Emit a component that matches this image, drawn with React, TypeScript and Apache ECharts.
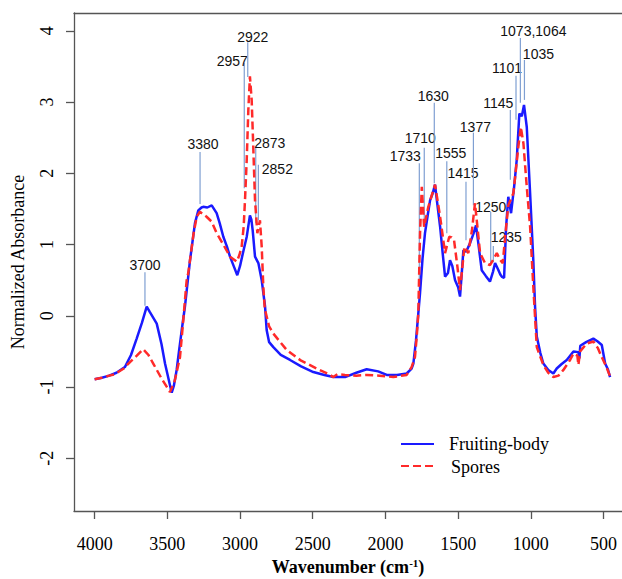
import React, { useEffect, useRef } from "react";
import * as echarts from "echarts";

// ---- Data ----
const fruitingWn = [4000,3950,3900,3850,3792,3750,3711,3675,3642,3620,3573,3540,3516,3470,3455,3436,3420,3401,3379,3344,3310,3287,3265,3253,3225,3195,3161,3140,3115,3090,3069,3040,3019,3000,2978,2954,2940,2932,2922,2913,2897,2874,2851,2828,2817,2800,2771,2720,2656,2580,2496,2420,2358,2278,2200,2129,2050,1991,1920,1854,1820,1808,1790,1774,1762,1745,1728,1710,1693,1675,1659,1645,1624,1605,1590,1570,1556,1540,1521,1500,1487,1475,1464,1445,1418,1395,1377,1360,1338,1310,1281,1260,1246,1225,1210,1200,1184,1170,1155,1136,1115,1097,1079,1062,1047,1028,1005,983,971,959,935,914,880,845,822,790,753,707,673,666,660,620,570,540,512,489,470,455];
const fruitingAbs = [-0.89,-0.87,-0.84,-0.80,-0.72,-0.55,-0.32,-0.10,0.13,0.05,-0.11,-0.40,-0.67,-1.08,-0.98,-0.76,-0.50,-0.20,0.13,0.78,1.30,1.48,1.52,1.53,1.52,1.55,1.44,1.30,1.11,0.97,0.83,0.68,0.57,0.70,0.90,1.11,1.30,1.41,1.35,1.20,0.83,0.74,0.50,0.13,-0.20,-0.37,-0.44,-0.55,-0.62,-0.71,-0.79,-0.83,-0.86,-0.86,-0.80,-0.75,-0.78,-0.83,-0.83,-0.81,-0.74,-0.67,-0.35,0.03,0.32,0.80,1.16,1.40,1.62,1.72,1.84,1.60,1.25,0.85,0.55,0.60,0.78,0.70,0.50,0.40,0.27,0.60,0.92,0.90,1.02,1.15,1.27,1.00,0.64,0.56,0.48,0.62,0.74,0.65,0.58,0.55,0.53,1.25,1.67,1.44,1.81,2.19,2.84,2.80,2.96,2.65,1.72,0.78,0.13,-0.29,-0.52,-0.67,-0.76,-0.81,-0.74,-0.68,-0.62,-0.50,-0.51,-0.60,-0.42,-0.37,-0.32,-0.36,-0.41,-0.67,-0.75,-0.86];

const sporesWn = [4000,3950,3900,3860,3838,3800,3757,3710,3666,3630,3597,3540,3482,3450,3413,3390,3367,3356,3320,3298,3276,3230,3195,3161,3115,3069,3023,3005,2989,2975,2966,2954,2943,2932,2920,2909,2897,2881,2863,2851,2840,2830,2800,2771,2679,2580,2473,2400,2358,2330,2278,2200,2129,2040,1946,1854,1820,1797,1785,1774,1762,1750,1734,1705,1680,1659,1640,1624,1590,1561,1545,1528,1505,1487,1470,1457,1430,1405,1384,1365,1349,1315,1281,1255,1234,1210,1193,1177,1155,1120,1086,1069,1051,1028,1005,983,959,914,880,845,810,776,730,707,680,673,661,616,570,540,512,480,455];
const sporesAbs = [-0.89,-0.87,-0.84,-0.82,-0.79,-0.74,-0.65,-0.56,-0.47,-0.55,-0.67,-0.88,-1.07,-0.92,-0.58,-0.05,0.50,0.60,1.15,1.39,1.46,1.39,1.32,1.16,1.00,0.83,0.76,0.85,0.97,1.25,1.62,2.19,2.89,3.36,3.03,2.37,1.62,1.16,1.34,0.97,0.41,0.10,-0.15,-0.25,-0.48,-0.63,-0.74,-0.81,-0.86,-0.82,-0.83,-0.84,-0.83,-0.84,-0.86,-0.83,-0.72,-0.58,-0.30,0.03,1.16,1.81,1.25,1.53,1.70,1.84,1.60,1.39,0.88,1.11,1.10,1.06,0.69,0.36,0.70,0.97,0.88,1.20,1.58,1.20,0.88,0.74,0.71,0.80,0.88,0.78,0.74,1.10,1.55,1.72,2.37,2.65,2.42,1.81,1.25,0.41,-0.44,-0.69,-0.80,-0.86,-0.84,-0.76,-0.62,-0.53,-0.56,-0.69,-0.50,-0.39,-0.36,-0.45,-0.58,-0.72,-0.85];

const xTickValues = [4000, 3500, 3000, 2500, 2000, 1500, 1000, 500];
const yTickValues = [-2, -1, 0, 1, 2, 3, 4];

const seriesNames = ["Fruiting-body", "Spores"];

const peakLabels = ["3700","3380","2957","2922","2873","2852","1733","1710","1630","1555","1415","1377","1250","1235","1145","1101","1073,1064","1035"];
const peakLineWn = [3654,3275,2971,2947,2892,2874,1767,1733,1664,1578,1446,1395,1276,1258,1141,1102,1072,1044];
const peakLineTop = [0.61,2.30,3.55,3.84,2.36,2.12,2.14,2.36,2.99,2.17,1.88,2.57,1.46,0.98,2.89,3.37,3.90,3.59];
const peakLineBottom = [0.14,1.57,1.79,3.35,1.30,1.34,0.32,1.25,1.86,1.16,1.06,1.55,0.74,0.75,1.91,2.75,2.99,3.03];

// label placement relative to the top of each marker line (px) — layout, not data
const peakLabelOffset = [[0,-7],[3,-8],[-12,-2],[5,-5],[14,-5],[19,4],[-14,-7],[-4,-10],[-1,-7],[4,-8],[-3,-9],[2,-6],[0,-5],[13,-9],[-12,-7],[-9,-8],[13,-7],[14,-6]];

const SERIF = '"Liberation Serif", "Times New Roman", serif';
const SANS = '"Liberation Sans", Arial, sans-serif';
const AXIS_COLOR = "#555";
const BLUE = "#1a1aff";
const RED = "#ff2a2a";

export default function App() {
  const ref = useRef<HTMLDivElement>(null);

  useEffect(() => {
    if (!ref.current) return;
    const chart = echarts.init(ref.current, undefined, { renderer: "svg" });

    const fruiting = fruitingWn.map((w, i) => [w, fruitingAbs[i]]);
    const spores = sporesWn.map((w, i) => [w, sporesAbs[i]]);
    const peaks = peakLineWn.map((w, i) => [w, peakLineTop[i], peakLineBottom[i], i]);

    const xMin = 373;
    const xMax = 4142;
    const legendFont = { fontFamily: SERIF, fontSize: 18, fill: "#000", verticalAlign: "middle" };

    chart.setOption({
      animation: false,
      backgroundColor: "#fff",
      grid: { left: 74, right: 0, top: 13, bottom: 68, outerBoundsMode: "none", containLabel: false },
      graphic: [
        { type: "line", shape: { x1: 401, y1: 444, x2: 434, y2: 444 }, style: { stroke: BLUE, lineWidth: 2 } },
        { type: "text", x: 449, y: 444, style: { ...legendFont, text: seriesNames[0] } },
        { type: "line", shape: { x1: 401, y1: 466, x2: 434, y2: 466 }, style: { stroke: RED, lineWidth: 2, lineDash: [8, 4] } },
        { type: "text", x: 451, y: 467, style: { ...legendFont, text: seriesNames[1] } },
      ],
      xAxis: [
        {
          type: "value",
          inverse: true,
          min: xMin,
          max: xMax,
          position: "bottom",
          splitLine: { show: false },
          axisLine: { show: true, onZero: false, lineStyle: { color: AXIS_COLOR, width: 1.3 } },
          axisTick: { show: true, length: 8, customValues: xTickValues, lineStyle: { color: AXIS_COLOR, width: 1.3 } },
          axisLabel: {
            customValues: xTickValues,
            margin: 24,
            fontFamily: SERIF,
            fontSize: 18,
            color: "#000",
            formatter: (v: number) => String(v),
          },
          name: "Wavenumber (cm{sup|-1})",
          nameLocation: "middle",
          nameGap: 45,
          nameTextStyle: {
            fontFamily: SERIF,
            fontSize: 18,
            fontWeight: "bold",
            color: "#000",
            rich: {
              sup: { fontFamily: SERIF, fontSize: 11, fontWeight: "bold", color: "#000", verticalAlign: "top", padding: [0, 0, 8, 0] },
            },
          },
        },
        {
          type: "value",
          inverse: true,
          min: xMin,
          max: xMax,
          position: "top",
          splitLine: { show: false },
          axisLine: { show: true, onZero: false, lineStyle: { color: AXIS_COLOR, width: 1.3 } },
          axisTick: { show: false },
          axisLabel: { show: false },
        },
      ],
      yAxis: {
        type: "value",
        min: -2.74,
        max: 4.25,
        splitLine: { show: false },
        axisLine: { show: true, onZero: false, lineStyle: { color: AXIS_COLOR, width: 1.3 } },
        axisTick: { show: true, length: 8, customValues: yTickValues, lineStyle: { color: AXIS_COLOR, width: 1.3 } },
        axisLabel: { customValues: yTickValues, rotate: 90, margin: 18, fontFamily: SERIF, fontSize: 18, color: "#000" },
        name: "Normalized Absorbance",
        nameLocation: "middle",
        nameGap: 47,
        nameTextStyle: { fontFamily: SERIF, fontSize: 18, color: "#000" },
      },
      series: [
        {
          type: "custom",
          name: "peaks",
          xAxisIndex: 0,
          yAxisIndex: 0,
          silent: true,
          z: 1,
          clip: false,
          data: peaks,
          renderItem: (params: any, api: any) => {
            const idx = api.value(3);
            const top = api.coord([api.value(0), api.value(1)]);
            const bot = api.coord([api.value(0), api.value(2)]);
            const off = peakLabelOffset[idx];
            return {
              type: "group",
              children: [
                {
                  type: "line",
                  shape: { x1: top[0], y1: top[1], x2: bot[0], y2: bot[1] },
                  style: { stroke: "#7f9fd2", lineWidth: 1.2 },
                },
                {
                  type: "text",
                  x: top[0] + off[0],
                  y: top[1] + off[1],
                  style: {
                    text: peakLabels[idx],
                    fill: "#111",
                    fontFamily: SANS,
                    fontSize: 14,
                    align: "center",
                    verticalAlign: "middle",
                  },
                },
              ],
            };
          },
        },
        {
          type: "line",
          name: seriesNames[0],
          data: fruiting,
          showSymbol: false,
          symbol: "none",
          z: 3,
          lineStyle: { color: BLUE, width: 2.5 },
          itemStyle: { color: BLUE },
        },
        {
          type: "line",
          name: seriesNames[1],
          data: spores,
          showSymbol: false,
          symbol: "none",
          z: 4,
          lineStyle: { color: RED, width: 2.5, type: [8, 4] },
          itemStyle: { color: RED },
        },
      ],
    });

    return () => chart.dispose();
  }, []);

  return (
    <div
      ref={ref}
      style={{ position: "fixed", left: 0, top: 0, width: 622, height: 579, background: "#fff" }}
    />
  );
}
